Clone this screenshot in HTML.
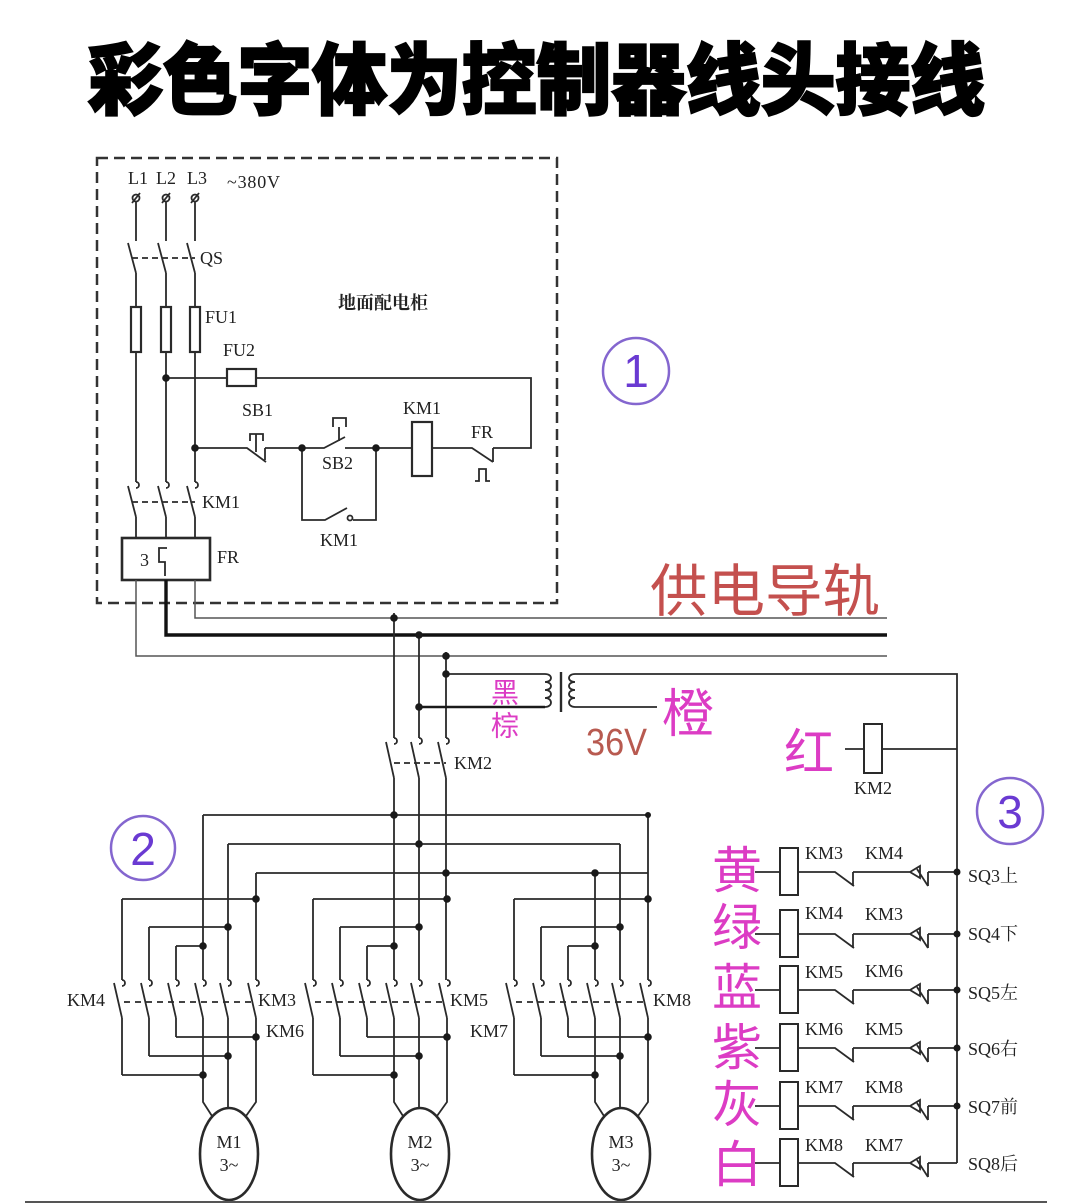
<!DOCTYPE html>
<html><head><meta charset="utf-8">
<style>
html,body{margin:0;padding:0;background:#fff;}
svg{display:block}
.l{fill:none;stroke:#2a2a2a;stroke-width:1.8}
.g{fill:none;stroke:#555;stroke-width:1.5}
.d{fill:#1a1a1a}
.t{font-family:"Liberation Serif","Noto Serif CJK SC",serif;font-size:18px;fill:#222;dominant-baseline:central}
.m{font-family:"Liberation Sans","Noto Sans CJK SC",sans-serif;fill:#dc3cc4;dominant-baseline:central;text-anchor:middle}
.c{fill:none;stroke:#8466cf;stroke-width:2.5}
.n{font-family:"Liberation Sans",sans-serif;font-size:46px;fill:#6a3ad2;dominant-baseline:central;text-anchor:middle}
</style></head><body>
<svg width="1079" height="1204" viewBox="0 0 1079 1204" xmlns="http://www.w3.org/2000/svg">
<rect width="1079" height="1204" fill="#fff"/>

<!-- Title -->
<text x="88" y="75" font-family="'Noto Sans CJK SC','WenQuanYi Zen Hei',sans-serif" font-weight="900" font-size="78" textLength="897" lengthAdjust="spacingAndGlyphs" fill="#000" stroke="#000" stroke-width="2.2" dominant-baseline="central">彩色字体为控制器线头接线</text>

<!-- Cabinet dashed box -->
<rect x="97" y="158" width="460" height="445" fill="none" stroke="#333" stroke-width="2.5" stroke-dasharray="11 6"/>

<!-- terminals -->
<g class="l">
<circle cx="136" cy="198" r="3.5"/><circle cx="166" cy="198" r="3.5"/><circle cx="195" cy="198" r="3.5"/>
<path d="M132,203 L140,193 M162,203 L170,193 M191,203 L199,193"/>
</g>
<text class="t" x="128" y="178">L1</text>
<text class="t" x="156" y="178">L2</text>
<text class="t" x="187" y="178">L3</text>
<text class="t" x="227" y="182" textLength="53">~380V</text>

<!-- three phase verticals in cabinet -->
<g class="l">
<path d="M136,202 V241 M128,243 L136,273 M136,273 V307 M136,352 V482 M128,486 L136,517 M136,517 V538"/>
<path d="M166,202 V241 M158,243 L166,273 M166,273 V307 M166,352 V482 M158,486 L166,517 M166,517 V538"/>
<path d="M195,202 V241 M187,243 L195,273 M195,273 V307 M195,352 V482 M187,486 L195,517 M195,517 V538"/>
<path d="M136,482 c4,0 4,6 0,6 M166,482 c4,0 4,6 0,6 M195,482 c4,0 4,6 0,6"/>
<rect x="131" y="307" width="10" height="45" stroke-width="2.2"/>
<rect x="161" y="307" width="10" height="45" stroke-width="2.2"/>
<rect x="190" y="307" width="10" height="45" stroke-width="2.2"/>
<path d="M132,258 H195 M132,502 H195" stroke-dasharray="6 4"/>
<rect x="122" y="538" width="88" height="42" stroke-width="2.6"/>
<path d="M167,548 H159 V562 H165 V576"/>
</g>
<text class="t" x="200" y="258">QS</text>
<text class="t" x="205" y="317">FU1</text>
<text class="t" x="202" y="502">KM1</text>
<text class="t" x="217" y="557">FR</text>
<text class="t" x="140" y="560" font-size="18">3</text>
<text x="383" y="302" font-family="'Noto Serif CJK SC','Noto Sans CJK SC',serif" font-weight="700" font-size="18" fill="#222" text-anchor="middle" dominant-baseline="central">地面配电柜</text>

<!-- control circuit in cabinet -->
<g class="l">
<path d="M166,378 H227 M256,378 H531 V448 H493"/>
<rect x="227" y="369" width="29" height="17" stroke-width="2.2"/>
<path d="M195,448 H247 L266,462 M265,448 V460 M265,448 H302"/>
<path d="M250,441 V434 H263 V441 M256,434 V452" />
<path d="M302,448 H324 L345,437 M345,448 H376"/>
<path d="M333,427 V418 H346 V427 M339,427 V441"/>
<path d="M302,448 V520 H325 L347,508 M353,520 H376 V448"/>
<circle cx="350" cy="518" r="2.5"/>
<path d="M376,448 H412 M432,448 H472 L493,462 M493,448 V462"/>
<rect x="412" y="422" width="20" height="54" stroke-width="2.2"/>
<path d="M475,481 H479 V469 H486 V481 H490"/>
</g>
<g class="d">
<circle cx="166" cy="378" r="3.8"/><circle cx="195" cy="448" r="3.8"/><circle cx="302" cy="448" r="3.8"/><circle cx="376" cy="448" r="3.8"/>
</g>
<text class="t" x="223" y="350">FU2</text>
<text class="t" x="242" y="410">SB1</text>
<text class="t" x="322" y="463">SB2</text>
<text class="t" x="403" y="408">KM1</text>
<text class="t" x="471" y="432">FR</text>
<text class="t" x="320" y="540">KM1</text>

<!-- circled numbers -->
<circle class="c" cx="636" cy="371" r="33"/><text class="n" x="636" y="371">1</text>
<circle class="c" cx="143" cy="848" r="32"/><text class="n" x="143" y="849">2</text>
<circle class="c" cx="1010" cy="811" r="33"/><text class="n" x="1010" y="812">3</text>

<!-- power rails -->
<path class="g" d="M136,580 V656 H887"/>
<path d="M166,580 V635 H887" fill="none" stroke="#111" stroke-width="3.4"/>
<path class="g" d="M195,580 V618 H887"/>
<text x="765" y="587" font-family="'Noto Sans CJK SC',sans-serif" font-size="57" fill="#c4504e" text-anchor="middle" dominant-baseline="central" textLength="230" lengthAdjust="spacingAndGlyphs">供电导轨</text>

<!-- main bus verticals -->
<g class="l">
<path d="M394,613 V738 M386,742 L394,778 M394,778 V980"/>
<path d="M419,632 V738 M411,742 L419,778 M419,778 V980"/>
<path d="M446,652 V738 M438,742 L446,778 M446,778 V980"/>
<path d="M394,738 c4,0 4,6 0,6 M419,738 c4,0 4,6 0,6 M446,738 c4,0 4,6 0,6"/>
<path d="M394,763 H446" stroke-dasharray="6 4"/>
<!-- transformer -->
<path d="M446,674 H545 M419,707 H545" />
<path d="M545,674 c8,0 8,8 0,8 c8,0 8,8 0,8 c8,0 8,8 0,8 c8,0 8,9 0,9"/>
<path d="M561,672 V712" stroke-width="2.4"/>
<path d="M575,674 c-8,0 -8,8 0,8 c-8,0 -8,8 0,8 c-8,0 -8,8 0,8 c-8,0 -8,9 0,9"/>
<path d="M575,674 H957 V1163 M575,707 H657"/>
<!-- KM2 coil -->
<path d="M845,749 H864 M882,749 H957"/>
<rect x="864" y="724" width="18" height="49" stroke-width="2"/>
<!-- distribution lines -->
<path d="M203,815 H648 M228,844 H620 M256,873 H648"/>
<path d="M203,815 V980 M228,844 V980 M256,873 V980"/>
<path d="M595,873 V980 M620,844 V980 M648,815 V980"/>
</g>
<path d="M419,707 H545" stroke="#1a1a1a" stroke-width="2.6"/>
<g class="d">
<circle cx="394" cy="618" r="3.8"/><circle cx="419" cy="635" r="3.8"/><circle cx="446" cy="656" r="3.8"/>
<circle cx="446" cy="674" r="3.8"/><circle cx="419" cy="707" r="3.8"/>
<circle cx="394" cy="815" r="3.8"/><circle cx="419" cy="844" r="3.8"/><circle cx="446" cy="873" r="3.8"/>
<circle cx="595" cy="873" r="3.8"/><circle cx="648" cy="815" r="3"/>
</g>
<text class="t" x="454" y="763">KM2</text>
<text class="t" x="854" y="788">KM2</text>
<text class="m" x="505" y="693" font-size="28">黑</text>
<text class="m" x="505" y="726" font-size="28">棕</text>
<text class="m" x="688" y="715" font-size="52">橙</text>
<text class="m" x="809" y="753" font-size="50">红</text>
<text x="586" y="743" font-family="'Liberation Sans',sans-serif" font-size="38" fill="#b85a50" dominant-baseline="central" textLength="61" lengthAdjust="spacingAndGlyphs">36V</text>

<!-- motor groups -->
<defs>
<g id="mg">
<g class="l">
<path d="M122,899 H256 M149,927 H228 M176,946 H203 M176,1037 H256 M149,1056 H228 M122,1075 H203"/>
<path d="M122,899 V980 M122,1018 V1075 M149,927 V980 M149,1018 V1056 M176,946 V980 M176,1018 V1037"/>
<path d="M203,1018 V1102 L212,1116 M228,1018 V1108 M256,1018 V1102 L246,1116"/>
<path d="M114,983 L122,1018 M141,983 L149,1018 M168,983 L176,1018 M195,983 L203,1018 M220,983 L228,1018 M248,983 L256,1018"/>
<path d="M122,980 c4,0 4,6 0,6 M149,980 c4,0 4,6 0,6 M176,980 c4,0 4,6 0,6 M203,980 c4,0 4,6 0,6 M228,980 c4,0 4,6 0,6 M256,980 c4,0 4,6 0,6"/>
<path d="M124,1002 H254" stroke-dasharray="6 5"/>
<ellipse cx="229" cy="1154" rx="29" ry="46" stroke-width="2.6"/>
</g>
<g class="d">
<circle cx="256" cy="899" r="3.8"/><circle cx="228" cy="927" r="3.8"/><circle cx="203" cy="946" r="3.8"/>
<circle cx="256" cy="1037" r="3.8"/><circle cx="228" cy="1056" r="3.8"/><circle cx="203" cy="1075" r="3.8"/>
</g>
</g>
</defs>
<use href="#mg"/>
<use href="#mg" transform="translate(191,0)"/>
<use href="#mg" transform="translate(392,0)"/>
<text class="t" x="229" y="1142" text-anchor="middle">M1</text>
<text class="t" x="229" y="1165" text-anchor="middle">3~</text>
<text class="t" x="420" y="1142" text-anchor="middle">M2</text>
<text class="t" x="420" y="1165" text-anchor="middle">3~</text>
<text class="t" x="621" y="1142" text-anchor="middle">M3</text>
<text class="t" x="621" y="1165" text-anchor="middle">3~</text>
<text class="t" x="67" y="1000">KM4</text>
<text class="t" x="258" y="1000">KM3</text>
<text class="t" x="266" y="1031">KM6</text>
<text class="t" x="450" y="1000">KM5</text>
<text class="t" x="470" y="1031">KM7</text>
<text class="t" x="653" y="1000">KM8</text>

<!-- control rows -->
<defs>
<g id="row">
<path class="l" d="M755,0 H780 M798,0 H835 L854,14 M853,0 V14 M853,0 H910 M910,0 L920,-6 L920,6 Z M917,-3 L928,14 M928,0 V14 M928,0 H957"/>
<rect x="780" y="-24" width="18" height="47" fill="none" stroke="#2a2a2a" stroke-width="2"/>
</g>
</defs>
<use href="#row" transform="translate(0,872)"/>
<use href="#row" transform="translate(0,934)"/>
<use href="#row" transform="translate(0,990)"/>
<use href="#row" transform="translate(0,1048)"/>
<use href="#row" transform="translate(0,1106)"/>
<use href="#row" transform="translate(0,1163)"/>
<g class="d">
<circle cx="957" cy="872" r="3.5"/><circle cx="957" cy="934" r="3.5"/><circle cx="957" cy="990" r="3.5"/><circle cx="957" cy="1048" r="3.5"/><circle cx="957" cy="1106" r="3.5"/>
</g>
<text class="t" x="805" y="853">KM3</text><text class="t" x="865" y="853">KM4</text><text class="t" x="968" y="876">SQ3上</text>
<text class="t" x="805" y="913">KM4</text><text class="t" x="865" y="914">KM3</text><text class="t" x="968" y="934">SQ4下</text>
<text class="t" x="805" y="972">KM5</text><text class="t" x="865" y="971">KM6</text><text class="t" x="968" y="993">SQ5左</text>
<text class="t" x="805" y="1029">KM6</text><text class="t" x="865" y="1029">KM5</text><text class="t" x="968" y="1049">SQ6右</text>
<text class="t" x="805" y="1087">KM7</text><text class="t" x="865" y="1087">KM8</text><text class="t" x="968" y="1107">SQ7前</text>
<text class="t" x="805" y="1145">KM8</text><text class="t" x="865" y="1145">KM7</text><text class="t" x="968" y="1164">SQ8后</text>

<text class="m" x="737" y="871" font-size="50">黄</text>
<text class="m" x="737" y="928" font-size="50">绿</text>
<text class="m" x="737" y="988" font-size="50">蓝</text>
<text class="m" x="737" y="1048" font-size="50">紫</text>
<text class="m" x="737" y="1105" font-size="50">灰</text>
<text class="m" x="737" y="1165" font-size="50">白</text>

<!-- bottom line -->
<path d="M25,1202 H1047" stroke="#555" stroke-width="2"/>
</svg>
</body></html>
